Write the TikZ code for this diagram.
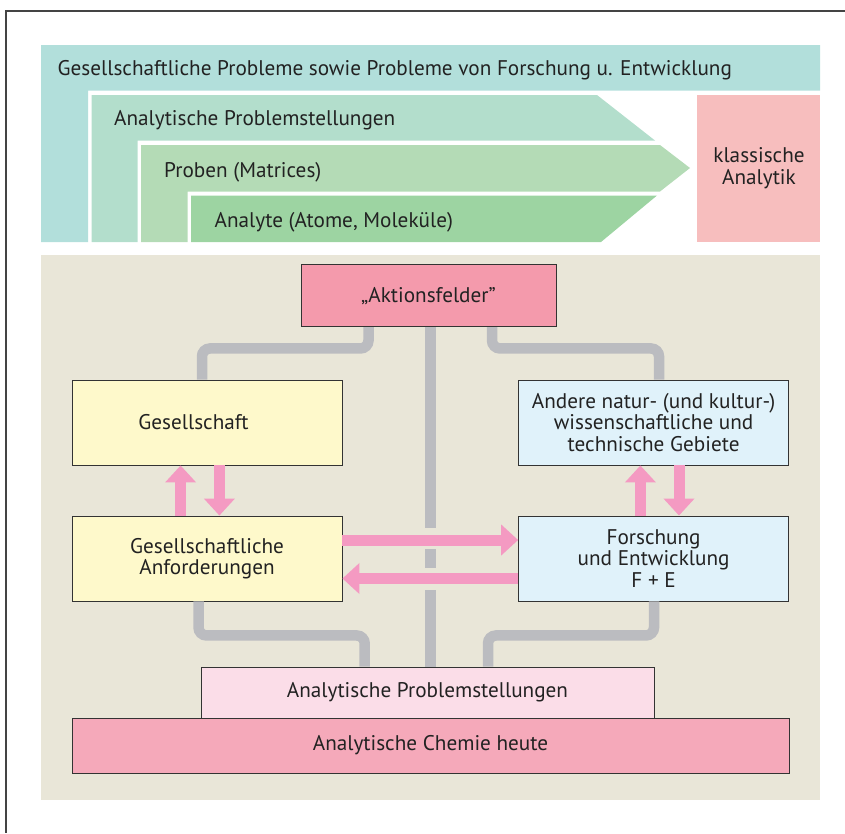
\documentclass[tikz,border=0pt]{standalone}
\usepackage{fontspec}
\setmainfont{PT Sans}
\usetikzlibrary{arrows.meta,calc}
\definecolor{tealA}{HTML}{B2DFDB}
\definecolor{mintB}{HTML}{B3DECC}
\definecolor{greenC}{HTML}{B4DBB6}
\definecolor{greenD}{HTML}{9DD4A2}
\definecolor{pinkK}{HTML}{F7BEBE}
\definecolor{beigeBG}{HTML}{E9E6D8}
\definecolor{pinkAkt}{HTML}{F49AAC}
\definecolor{yellowG}{HTML}{FEF9CB}
\definecolor{blueF}{HTML}{E0F2FA}
\definecolor{grayC}{HTML}{BBBCC0}
\definecolor{pinkArr}{HTML}{F49AC2}
\definecolor{pinkLow}{HTML}{FBDDE8}
\definecolor{pinkChem}{HTML}{F5A9BA}
\definecolor{txt}{HTML}{222222}
\definecolor{boxline}{HTML}{333333}
\definecolor{framec}{HTML}{444444}
\begin{document}
\begin{tikzpicture}[x=1pt,y=-1pt,
  every node/.style={font=\fontsize{21.2}{21.5}\selectfont, text=txt},
  toplabel/.style={anchor=base west, inner sep=0pt},
  box/.style={draw=boxline, line width=0.9pt, inner sep=0pt, align=center},
  conn/.style={draw=grayC, line width=10.5pt, rounded corners=8pt},
  parr/.style={draw=pinkArr, line width=11pt, -{Triangle[width=30pt,length=17pt]}}]
\useasboundingbox (0,0) rectangle (845,833);
% frame
\draw[framec, line width=1.3pt] (845,11) -- (6,11) -- (6,833);
% top region
\fill[tealA] (41,45) -- (820,45) -- (820,90.5) -- (88,90.5) -- (88,242) -- (41,242) -- cycle;
\fill[mintB] (91.5,95) -- (597,95) -- (655,140.5) -- (137.5,140.5) -- (137.5,242) -- (91.5,242) -- cycle;
\fill[greenC] (141,145) -- (660,145) -- (690,168) -- (660,191.5) -- (187.5,191.5) -- (187.5,242) -- (141,242) -- cycle;
\fill[greenD] (191,195.5) -- (657,195.5) -- (601,242) -- (191,242) -- cycle;
\fill[pinkK] (696.5,95) rectangle (820,242);
\node[toplabel] (t1) at (57.5,75) {Gesellschaftliche Probleme sowie Probleme von Forschung u. Entwicklung};
\node[toplabel] (t2) at (114,125) {Analytische Problemstellungen};
\node[toplabel] (t3) at (164,177) {Proben (Matrices)};
\node[toplabel] (t4) at (214.5,227) {Analyte (Atome, Moleküle)};
\node[align=center] (t5) at (759,168) {klassische\\Analytik};
% lower region
\fill[beigeBG] (41,255) rectangle (820,800);
\node[box, fill=pinkAkt, minimum width=255pt, minimum height=62pt] (akt) at (428.5,295.7) {„Aktionsfelder”};
\node[box, fill=yellowG, minimum width=270pt, minimum height=85pt] (ges) at (207,422.5) {Gesellschaft\hspace{27pt}};
\node[box, fill=blueF, minimum width=270pt, minimum height=85pt] (and) at (653.6,422.5) {Andere natur- (und kultur-)\\wissenschaftliche und\\technische Gebiete};
\node[box, fill=yellowG, minimum width=270pt, minimum height=85pt] (anf) at (207,558.5) {Gesellschaftliche\\Anforderungen};
\node[box, fill=blueF, minimum width=270pt, minimum height=85pt] (for) at (653.6,558.5) {Forschung\\und Entwicklung\\F + E};
\node[box, fill=pinkLow, minimum width=453pt, minimum height=51pt] (low) at (427.5,692.5) {Analytische Problemstellungen};
\node[box, fill=pinkChem, minimum width=717pt, minimum height=55pt] (chem) at (430.5,745.5) {Analytische Chemie heute};
% gray connectors
\path[conn] ([xshift=-60pt]akt.south) -- ++(0,21.3) -| ([xshift=-5pt]ges.north);
\path[conn] ([xshift=63.5pt]akt.south) -- ++(0,21.3) -| ([xshift=5.4pt]and.north);
\path[conn] ([xshift=-8.5pt]anf.south) -- ++(0,34) -| ([xshift=-62.8pt]low.north);
\path[conn] ([xshift=0.4pt]for.south) -- ++(0,34) -| ([xshift=60.5pt]low.north);
\coordinate (g1) at (430.5,528);
\coordinate (g2) at (430.5,549);
\coordinate (g3) at (430.5,568);
\coordinate (g4) at (430.5,590);
\path[conn] ([xshift=2pt]akt.south) -- (g1);
\path[conn] (g2) -- (g3);
\path[conn] (g4) -- ([xshift=3pt]low.north);
% pink arrows
\draw[parr] ([xshift=-26.4pt]anf.north) -- ([xshift=-26.4pt]ges.south);
\draw[parr] ([xshift=12.4pt]ges.south) -- ([xshift=12.4pt]anf.north);
\draw[parr] ([xshift=-13.2pt]for.north) -- ([xshift=-13.2pt]and.south);
\draw[parr] ([xshift=25.4pt]and.south) -- ([xshift=25.4pt]for.north);
\draw[parr] ([yshift=18.5pt]anf.east) -- ([yshift=18.5pt]for.west);
\draw[parr] ([yshift=-20pt]for.west) -- ([yshift=-20pt]anf.east);
\end{tikzpicture}
\end{document}
